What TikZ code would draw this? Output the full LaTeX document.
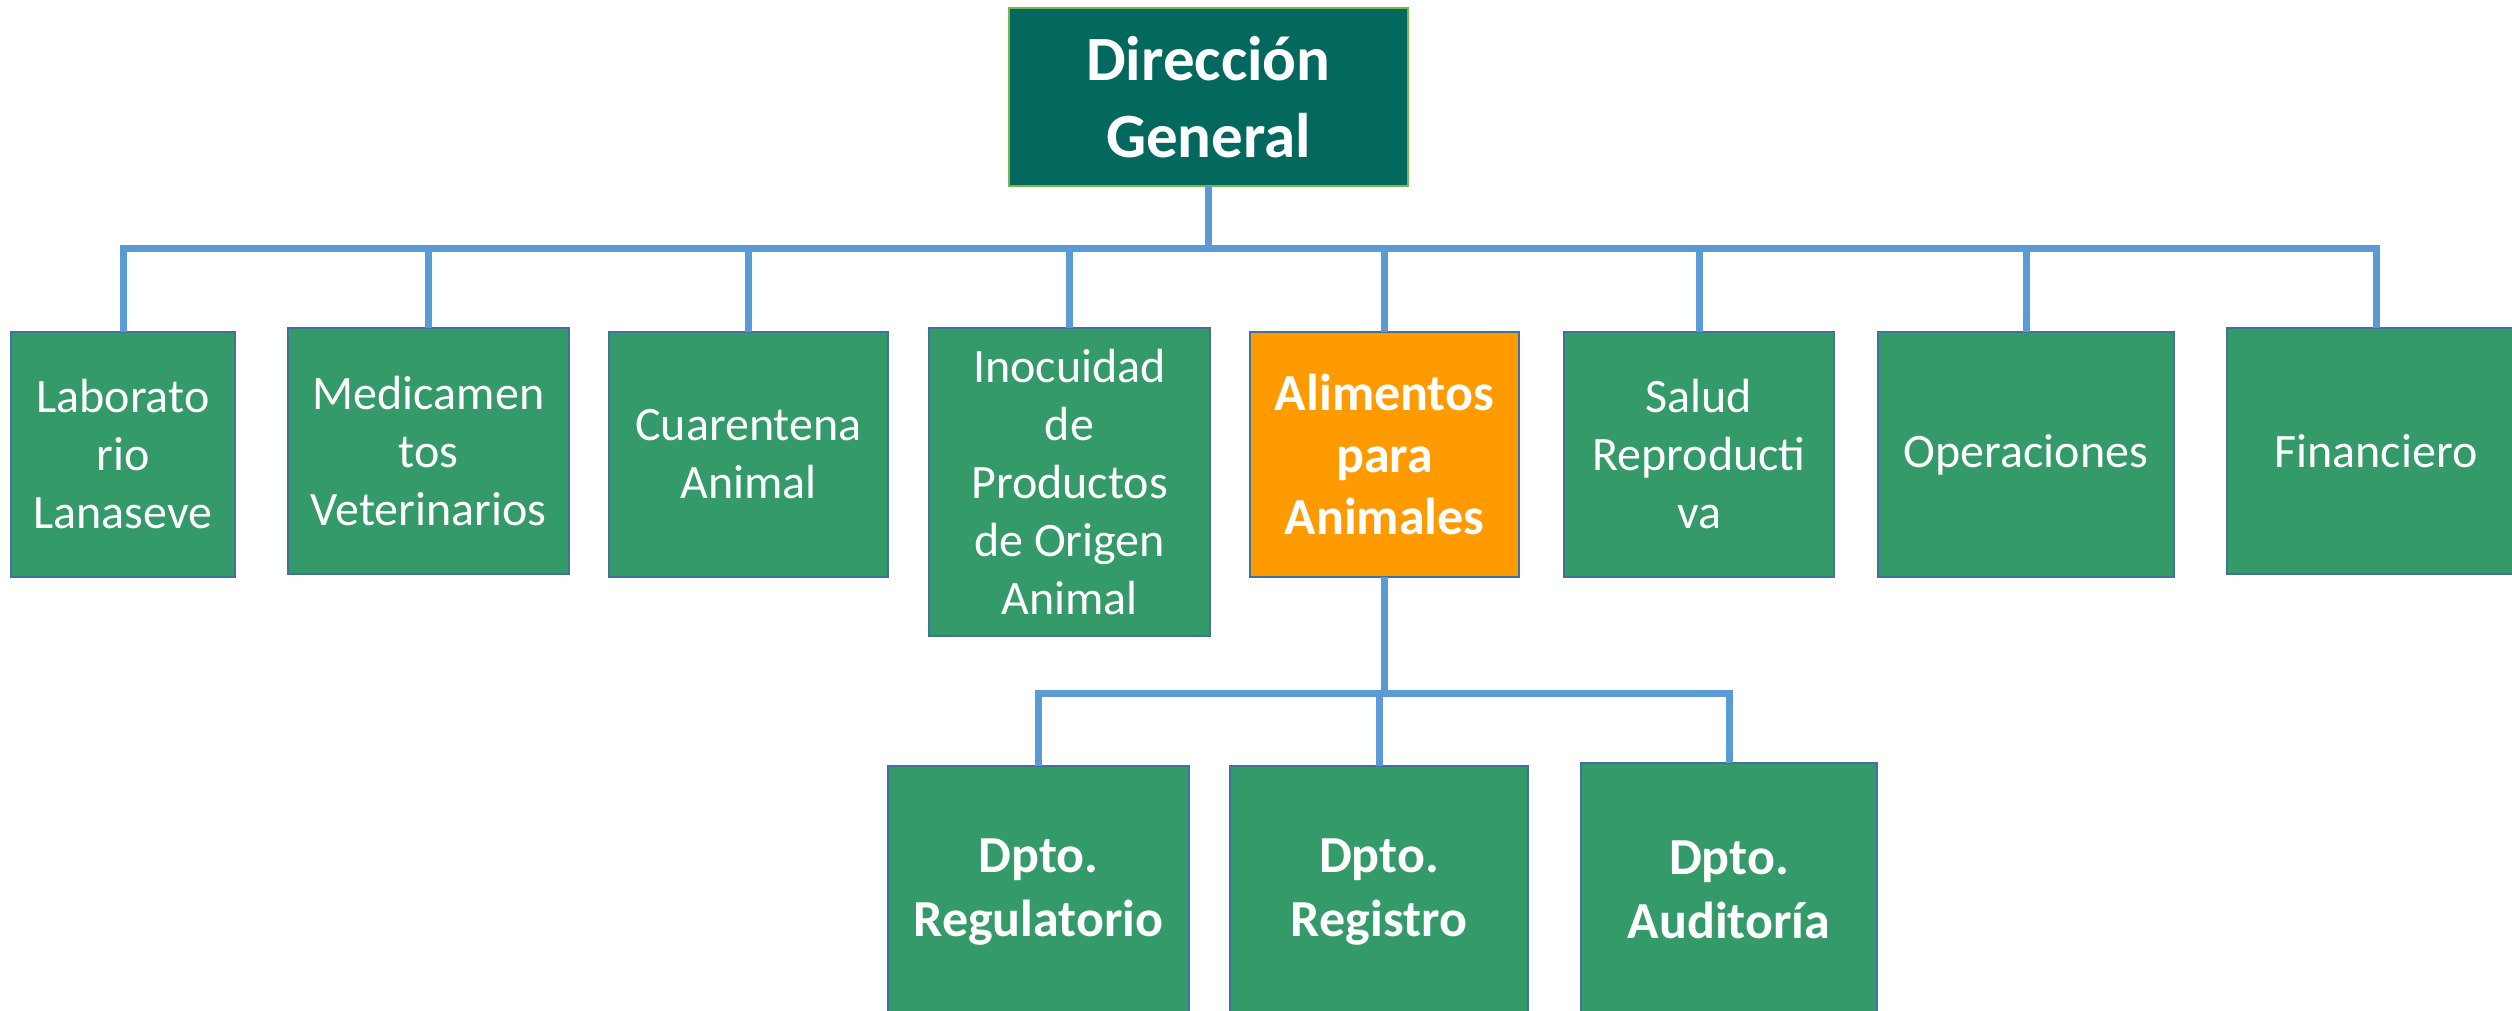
\documentclass[tikz,border=0pt]{standalone}
\usepackage{fontspec}
\setmainfont{Carlito}
\usepackage{tikz}
\usetikzlibrary{positioning}
\definecolor{topfill}{HTML}{03695F}
\definecolor{topline}{HTML}{7AB648}
\definecolor{unitfill}{HTML}{359A69}
\definecolor{unitline}{HTML}{41719C}
\definecolor{keyfill}{HTML}{FF9A00}
\definecolor{linkcol}{HTML}{5B9BD5}

\begin{document}
\begin{tikzpicture}

\tikzstyle{unit}=[draw=unitline, line width=2pt, fill=unitfill, text=white, align=center, inner sep=0pt, outer sep=0pt, font=\fontsize{48}{58}\selectfont]
\tikzstyle{keyunit}=[unit, fill=keyfill, font=\fontsize{52}{62}\selectfont\bfseries]
\tikzstyle{dept}=[unit, font=\fontsize{52}{64}\selectfont\bfseries]
\tikzstyle{head}=[unit, draw=topline, fill=topfill, font=\fontsize{63}{77}\selectfont\bfseries]
\tikzstyle{link}=[draw=linkcol, line width=7pt]

\useasboundingbox (0pt,0pt) rectangle (2512pt,-1010pt);
\clip (0pt,0pt) rectangle (2512pt,-1010pt);

% direccion
\node[head, minimum width=399pt, minimum height=178pt] at (1208.5pt, -97pt) (dg) {Dirección\\General};

% unidades
\node[unit, minimum width=224pt, minimum height=245pt] at (123pt, -454.5pt) (lab) {Laborato\\rio\\Lanaseve};
\node[unit, minimum width=281pt, minimum height=246pt] at (428.5pt, -451pt) (med) {Medicamen\\tos\\Veterinarios};
\node[unit, minimum width=279pt, minimum height=245pt] at (748.5pt, -454.5pt) (cua) {Cuarentena\\Animal};
\node[unit, minimum width=281pt, minimum height=308pt] at (1069.5pt, -482pt) (ino) {Inocuidad\\de\\Productos\\de Origen\\Animal};
\node[keyunit, minimum width=269pt, minimum height=245pt] at (1384.5pt, -454.5pt) (ali) {Alimentos\\para\\Animales};
\node[unit, minimum width=270pt, minimum height=245pt] at (1699pt, -454.5pt) (sal) {Salud\\Reproducti\\va};
\node[unit, minimum width=296pt, minimum height=245pt] at (2026pt, -454.5pt) (ope) {Operaciones};
\node[unit, minimum width=298pt, minimum height=246pt] at (2376pt, -451pt) (fin) {Financiero};

% departamentos
\node[dept, minimum width=301pt, minimum height=252pt] at (1038.5pt, -892pt) (reg) {Dpto.\\Regulatorio};
\node[dept, minimum width=298pt, minimum height=252pt] at (1379pt, -892pt) (rgs) {Dpto.\\Registro};
\node[dept, minimum width=296pt, minimum height=254pt] at (1729pt, -890pt) (aud) {Dpto.\\Auditoría};

% lineas
\draw[link] (dg.south) -- ++(0pt,-62pt) -| (lab.north);
\draw[link] (dg.south) -- ++(0pt,-62pt) -| (med.north);
\draw[link] (dg.south) -- ++(0pt,-62pt) -| (cua.north);
\draw[link] (dg.south) -- ++(0pt,-62pt) -| (ino.north);
\draw[link] (dg.south) -- ++(0pt,-62pt) -| (ali.north);
\draw[link] (dg.south) -- ++(0pt,-62pt) -| (sal.north);
\draw[link] (dg.south) -- ++(0pt,-62pt) -| (ope.north);
\draw[link] (dg.south) -- ++(0pt,-62pt) -| (fin.north);

\draw[link] (ali.south) -- ++(0pt,-116pt) -| (reg.north);
\draw[link] (ali.south) -- ++(0pt,-116pt) -| (rgs.north);
\draw[link] (ali.south) -- ++(0pt,-116pt) -| (aud.north);

\end{tikzpicture}
\end{document}
